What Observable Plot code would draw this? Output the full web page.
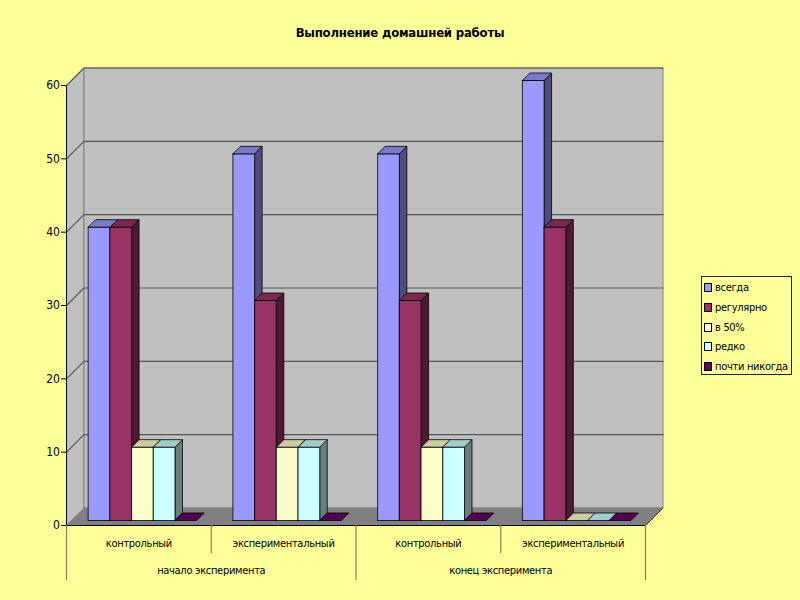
<!DOCTYPE html>
<html>
<head>
<meta charset="utf-8">
<script src="https://cdn.jsdelivr.net/npm/d3@7"></script>
<script src="https://cdn.jsdelivr.net/npm/@observablehq/plot@0.6"></script>
<style>
  html, body { margin: 0; padding: 0; background: #FFFF99; }
  #wrap { position: relative; width: 800px; height: 600px; background: #FFFF99;
    font-family: "Liberation Sans Narrow", "DejaVu Sans Condensed", "Arial Narrow", sans-serif; color: #000; }
  #title { height: 50px; box-sizing: border-box; padding-top: 25px; line-height: 16px;
    text-align: center; font-weight: bold; font-size: 13px; letter-spacing: -0.2px; }
  #legend { position: absolute; left: 701px; top: 276px; width: 91px; height: 99px;
    border: 1px solid #222; box-sizing: border-box; padding-top: 1px; }
  .row { height: 19.7px; display: flex; align-items: center; font-size: 11px; letter-spacing: -0.3px; white-space: nowrap; }
  .sw { width: 6px; height: 7px; border: 1px solid #000; margin: 0 3px 0 2px; flex: none; }
  svg { display: block; }
  svg text { letter-spacing: -0.3px; }
</style>
</head>
<body>
<div id="wrap">
  <div id="title"></div>
  <div id="chart"></div>
  <div id="legend"></div>
</div>
<script>
// ---- data ----
const titleText = "Выполнение домашней работы";
const stages = ["начало эксперимента", "конец эксперимента"];
const groups = ["контрольный", "экспериментальный", "контрольный", "экспериментальный"];
const series = ["всегда", "регулярно", "в 50%", "редко", "почти никогда"];
const seriesColors = ["#9999FF", "#993366", "#FFFFCC", "#CCFFFF", "#660066"];
const vsegda      = [40, 50, 50, 60];
const regulyarno  = [40, 30, 30, 40];
const v50         = [10, 10, 10, 0];
const redko       = [10, 10, 10, 0];
const pochtiNikogda = [0, 0, 0, 0];
const yTicks = [0, 10, 20, 30, 40, 50, 60];
const values = [vsegda, regulyarno, v50, redko, pochtiNikogda];

// ---- layout ----
const W = 800, H = 550, mL = 66, mR = 155, mT = 35, mB = 75;
const yMax = 60, nCat = groups.length;
const kx = (W - mL - mR) / nCat;   // px per category unit
const ky = (H - mT - mB) / yMax;   // px per value unit
const wallD = 17.5, barShift = 5, barD = 7.5;
const barW = 0.15, padL = 0.115;
const P = (x, y, d) => ({x: x + d / kx, y: y + d / ky});

function shade(c, k) {
  const r = d3.rgb(c);
  return d3.rgb(r.r * k, r.g * k, r.b * k).formatHex();
}

function poly(arr, id, fill, pts) {
  pts.concat([pts[0]]).forEach(p => arr.push({id, fill, x: p.x, y: p.y}));
}

// walls & floor
const walls = [];
poly(walls, "left", "#C0C0C0", [P(0,0,0), P(0,yMax,0), P(0,yMax,wallD), P(0,0,wallD)]);
poly(walls, "back", "#C0C0C0", [P(0,0,wallD), P(nCat,0,wallD), P(nCat,yMax,wallD), P(0,yMax,wallD)]);
poly(walls, "floor", "#808080", [P(0,0,0), P(nCat,0,0), P(nCat,0,wallD), P(0,0,wallD)]);

// gridlines
const grid = [];
yTicks.filter(t => t > 0).forEach(t => {
  [P(0,t,0), P(0,t,wallD), P(nCat,t,wallD)].forEach(p => grid.push({id: t, x: p.x, y: p.y}));
});

// bars
const bars = [];
for (let ci = 0; ci < nCat; ci++) {
  series.forEach((s, si) => {
    const v = values[si][ci];
    const c = seriesColors[si];
    const x1 = ci + padL + si * barW, x2 = x1 + barW;
    const s0 = barShift, s1 = barShift + barD;
    const id = ci + "-" + si;
    if (v > 0) {
      poly(bars, id + "s", shade(c, 0.5), [P(x2,0,s0), P(x2,0,s1), P(x2,v,s1), P(x2,v,s0)]);
      poly(bars, id + "f", c, [P(x1,0,s0), P(x2,0,s0), P(x2,v,s0), P(x1,v,s0)]);
    }
    poly(bars, id + "t", shade(c, 0.8), [P(x1,v,s0), P(x2,v,s0), P(x2,v,s1), P(x1,v,s1)]);
  });
}

const sepLong = 55 / ky, sepShort = 28 / ky;
const seps = d3.range(nCat + 1).map(i => ({x: i, y2: -(i % 2 === 0 ? sepLong : sepShort)}));

const chart = Plot.plot({
  width: W, height: H,
  marginLeft: mL, marginRight: mR, marginTop: mT, marginBottom: mB,
  style: {background: "transparent", fontFamily: '"Liberation Sans Narrow", "DejaVu Sans Condensed", sans-serif', fontSize: "11px", color: "#000"},
  x: {domain: [0, nCat], axis: null},
  y: {domain: [0, yMax], axis: null},
  color: {type: "identity"},
  marks: [
    Plot.line(walls, {x: "x", y: "y", z: "id", fill: "fill", stroke: "#808080", strokeWidth: 1}),
    Plot.line(grid, {x: "x", y: "y", z: "id", stroke: "#555", strokeWidth: 1.2}),
    Plot.line([P(nCat,0,0), P(nCat,0,wallD)], {x: "x", y: "y", stroke: "#333", strokeWidth: 1}),
    Plot.line(bars, {x: "x", y: "y", z: "id", fill: "fill", stroke: "#000", strokeWidth: 0.8}),
    Plot.ruleX([0], {y1: 0, y2: yMax, stroke: "#000", strokeWidth: 1}),
    Plot.ruleY([0], {x1: 0, x2: nCat, stroke: "#000", strokeWidth: 1.2}),
    Plot.axisY(yTicks, {anchor: "left", tickSize: 5, tickPadding: 2, fontSize: 12, label: null, stroke: "#000"}),
    Plot.ruleX(seps, {x: "x", y1: 0, y2: "y2", stroke: "#80805a", strokeWidth: 1.2}),
    Plot.text(groups, {x: (d, i) => i + 0.5, frameAnchor: "bottom", dy: 21, text: d => d, fontSize: 11}),
    Plot.text(stages, {x: (d, i) => i * 2 + 1, frameAnchor: "bottom", dy: 48, text: d => d, fontSize: 11})
  ]
});
document.getElementById("chart").appendChild(chart);
document.getElementById("title").textContent = titleText;

const legend = document.getElementById("legend");
series.forEach((s, i) => {
  const row = document.createElement("div");
  row.className = "row";
  const sw = document.createElement("span");
  sw.className = "sw";
  sw.style.background = seriesColors[i];
  const t = document.createElement("span");
  t.textContent = s;
  row.appendChild(sw); row.appendChild(t);
  legend.appendChild(row);
});
</script>
</body>
</html>
